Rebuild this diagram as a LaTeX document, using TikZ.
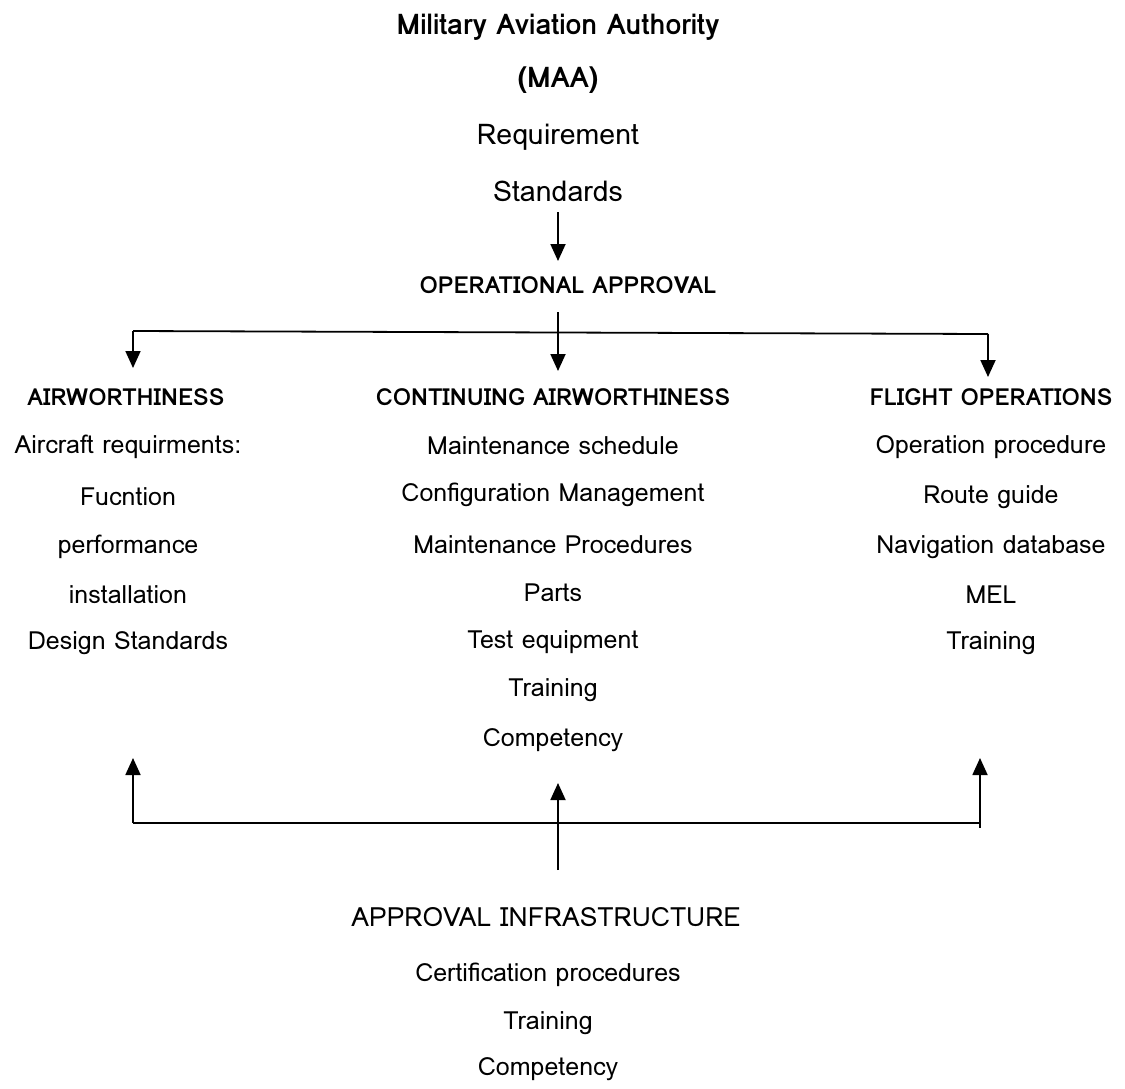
\documentclass[tikz,border=0pt]{standalone}
\usepackage{fontspec}
\setmainfont{Loma}
\usetikzlibrary{arrows.meta}
\tikzset{
  txt/.style={anchor=center,inner sep=0pt,font=\fontsize{25}{28}\selectfont},
  bigtxt/.style={anchor=center,inner sep=0pt,font=\fontsize{28.5}{32}\selectfont},
  hd/.style={anchor=center,inner sep=0pt,font=\fontsize{23.5}{26}\selectfont\bfseries},
  tophd/.style={anchor=center,inner sep=0pt,font=\fontsize{28.5}{32}\selectfont\bfseries},
  big/.style={anchor=center,inner sep=0pt,font=\fontsize{26.5}{30}\selectfont},
  ln/.style={line width=1.8pt},
  arr/.style={line width=1.8pt,-{Triangle[length=17pt,width=15pt]}}
}
\begin{document}
\begin{tikzpicture}[x=1pt,y=-1pt]
\useasboundingbox (0,0) rectangle (1125,1088);
% top
\node[tophd] (maa1) at (558,27) {Military Aviation Authority};
\node[tophd] (maa2) at (558,80) {(MAA)};
\node[bigtxt] (req) at (558,137) {Requirement};
\node[bigtxt] (std) at (558,191) {Standards};
\node[hd] (op) at (568,285) {OPERATIONAL APPROVAL};
% columns
\node[hd] (aw) at (126,397) {AIRWORTHINESS};
\node[txt] (aw1) at (128,447) {Aircraft requirments:};
\node[txt] (aw2) at (128,497) {Fucntion};
\node[txt] (aw3) at (128,547) {performance};
\node[txt] (aw4) at (128,595) {installation};
\node[txt] (aw5) at (128,643) {Design Standards};
\node[hd] (ca) at (553,397) {CONTINUING AIRWORTHINESS};
\node[txt] (ca1) at (553,446) {Maintenance schedule};
\node[txt] (ca2) at (553,495) {Configuration Management};
\node[txt] (ca3) at (553,545) {Maintenance Procedures};
\node[txt] (ca4) at (553,593) {Parts};
\node[txt] (ca5) at (553,642) {Test equipment};
\node[txt] (ca6) at (553,690) {Training};
\node[txt] (ca7) at (553,740) {Competency};
\node[hd] (fo) at (991,397) {FLIGHT OPERATIONS};
\node[txt] (fo1) at (991,447) {Operation procedure};
\node[txt] (fo2) at (991,497) {Route guide};
\node[txt] (fo3) at (991,547) {Navigation database};
\node[txt] (fo4) at (991,595) {MEL};
\node[txt] (fo5) at (991,643) {Training};
% bottom
\node[big] (ai) at (546,917) {APPROVAL INFRASTRUCTURE};
\node[txt] (ai1) at (548,975) {Certification procedures};
\node[txt] (ai2) at (548,1023) {Training};
\node[txt] (ai3) at (548,1069) {Competency};
% connectors top
\coordinate (s0) at (558,212);
\coordinate (s1) at (558,261);
\draw[arr] (s0) -- (s1);
\coordinate (tm) at (558,312);
\coordinate (tmtip) at (558,371);
\coordinate (tl) at (133,331);
\coordinate (tltip) at (133,368);
\coordinate (tr) at (988,334);
\coordinate (trtip) at (988,377);
\draw[ln] (tl) -- (tr);
\draw[arr] (tm) -- (tmtip);
\draw[arr] (tl) -- (tltip);
\draw[arr] (tr) -- (trtip);
% connectors bottom
\coordinate (bl) at (133,823);
\coordinate (bltip) at (133,758);
\coordinate (br) at (980,823);
\coordinate (brend) at (980,828);
\coordinate (brtip) at (980,758);
\coordinate (bm) at (558,870);
\coordinate (bmtip) at (558,783);
\draw[ln] (bl) -- (br);
\draw[ln] (br) -- (brend);
\draw[arr] (bl) -- (bltip);
\draw[arr] (br) -- (brtip);
\draw[arr] (bm) -- (bmtip);
\end{tikzpicture}
\end{document}
